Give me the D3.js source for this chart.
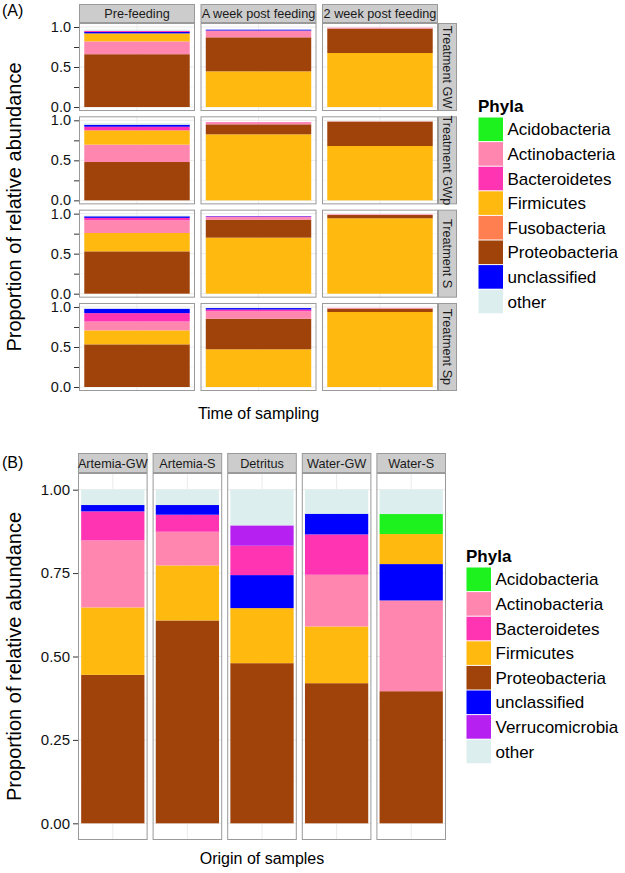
<!DOCTYPE html>
<html>
<head>
<meta charset="utf-8">
<script src="https://cdn.jsdelivr.net/npm/d3@7"></script>
<style>
  html, body { margin: 0; padding: 0; background: #fff; }
  svg { display: block; font-family: "Liberation Sans", Arial, Helvetica, sans-serif; }
</style>
</head>
<body>
<svg id="chart" width="625" height="873"></svg>
<script>
// ---------------- DATA ----------------
const phylaA = ["Acidobacteria","Actinobacteria","Bacteroidetes","Firmicutes","Fusobacteria","Proteobacteria","unclassified","other"];
const phylaB = ["Acidobacteria","Actinobacteria","Bacteroidetes","Firmicutes","Proteobacteria","unclassified","Verrucomicrobia","other"];
const phylumColors = ["#1EF21E","#FF87AF","#FF34B3","#FFB90F","#FF7F50","#A0430A","#0000FF","#B620F0","#DDEEEE"];
const phylumColorNames = ["Acidobacteria","Actinobacteria","Bacteroidetes","Firmicutes","Fusobacteria","Proteobacteria","unclassified","Verrucomicrobia","other"];

const timePoints = ["Pre-feeding","A week post feeding","2 week post feeding"];
const treatments = ["Treatment GW","Treatment GWp","Treatment S","Treatment Sp"];

// values aligned with phylaA, one array per time point
const treatmentGW  = [[0,0.160,0.012,0.100,0,0.660,0.018,0.020],
                      [0,0.085,0.000,0.446,0,0.425,0.012,0.004],
                      [0,0.012,0.000,0.675,0,0.305,0.000,0.000]];
const treatmentGWp = [[0,0.217,0.045,0.179,0,0.479,0.025,0.020],
                      [0,0.025,0.004,0.825,0,0.125,0.000,0.000],
                      [0,0.004,0.000,0.679,0,0.305,0.000,0.000]];
const treatmentS   = [[0,0.159,0.030,0.229,0,0.529,0.020,0.010],
                      [0,0.030,0.010,0.700,0,0.225,0.005,0.000],
                      [0,0.008,0.000,0.942,0,0.041,0.000,0.000]];
const treatmentSp  = [[0,0.110,0.105,0.175,0,0.533,0.054,0.005],
                      [0,0.092,0.022,0.471,0,0.383,0.018,0.000],
                      [0,0.010,0.000,0.937,0,0.042,0.000,0.000]];
const valuesA = [treatmentGW, treatmentGWp, treatmentS, treatmentSp];

const origins = ["Artemia-GW","Artemia-S","Detritus","Water-GW","Water-S"];
// values aligned with phylaB
const artemiaGW = [0,0.201,0.087,0.202,0.445,0.019,0,0.046];
const artemiaS  = [0,0.101,0.051,0.165,0.608,0.029,0,0.046];
const detritus  = [0,0,0.088,0.165,0.480,0.099,0.061,0.107];
const waterGW   = [0,0.155,0.121,0.170,0.420,0.062,0,0.072];
const waterS    = [0.060,0.272,0,0.090,0.396,0.109,0,0.073];
const valuesB = [artemiaGW, artemiaS, detritus, waterGW, waterS];

const ticksA = [0,0.25,0.5,0.75,1];
const tickLabelsA = ["0.0","","0.5","","1.0"];
const ticksB = [0,0.25,0.5,0.75,1];
const tickLabelsB = ["0.00","0.25","0.50","0.75","1.00"];

// ---------------- HELPERS ----------------
const color = d3.scaleOrdinal().domain(phylumColorNames).range(phylumColors);
const svg = d3.select("#chart");
const BORDER = "#9a9a9a", STRIP = "#cccccc", GRID = "#ebebeb", GRIDMINOR = "#f5f5f5";

function stackSegments(names, vals) {
  const items = names.map((n, i) => ({ name: n, v: vals[i] })).filter(d => d.v > 0);
  const main = items.filter(d => d.name !== "other").sort((a, b) => b.v - a.v);
  const other = items.filter(d => d.name === "other");
  const ordered = main.concat(other);
  let c = 0;
  return ordered.map(d => { const s = { name: d.name, y0: c, y1: c + d.v }; c += d.v; return s; });
}

function drawPanel(g, x0, y0, w, h, yScale, gridVals, minorVals, names, vals, label) {
  const x = d3.scaleBand().domain([label]).range([x0, x0 + w]).paddingOuter(0.05).paddingInner(0);
  g.append("rect").attr("x", x0).attr("y", y0).attr("width", w).attr("height", h).attr("fill", "#fff");
  g.selectAll(null).data(minorVals).enter().append("line")
    .attr("x1", x0).attr("x2", x0 + w).attr("y1", d => yScale(d)).attr("y2", d => yScale(d))
    .attr("stroke", GRIDMINOR).attr("stroke-width", 0.8);
  g.selectAll(null).data(gridVals).enter().append("line")
    .attr("x1", x0).attr("x2", x0 + w).attr("y1", d => yScale(d)).attr("y2", d => yScale(d))
    .attr("stroke", GRID).attr("stroke-width", 1);
  const cx = x(label) + x.bandwidth() / 2;
  g.append("line").attr("x1", cx).attr("x2", cx).attr("y1", y0).attr("y2", y0 + h)
    .attr("stroke", GRID).attr("stroke-width", 1);
  const segs = stackSegments(names, vals);
  g.selectAll(null).data(segs).enter().append("rect")
    .attr("x", x(label)).attr("width", x.bandwidth())
    .attr("y", d => yScale(d.y1)).attr("height", d => yScale(d.y0) - yScale(d.y1))
    .attr("fill", d => color(d.name));
  g.append("rect").attr("x", x0 + 0.5).attr("y", y0 + 0.5).attr("width", w - 1).attr("height", h - 1)
    .attr("fill", "none").attr("stroke", BORDER).attr("stroke-width", 1);
}

function drawYAxis(g, xPos, yScale, ticks, labels, fs) {
  const axis = d3.axisLeft(yScale).tickValues(ticks).tickSize(5).tickPadding(3)
    .tickFormat((d, i) => labels[i]);
  const a = g.append("g").attr("transform", `translate(${xPos},0)`).call(axis);
  a.select(".domain").remove();
  a.selectAll(".tick line").attr("stroke", "#333");
  a.selectAll(".tick text").attr("fill", "#111").style("font-size", fs + "px")
    .style("font-family", '"Liberation Sans", Arial, sans-serif');
}

function drawLegend(g, lx, ly, names, fs) {
  g.append("text").attr("x", lx).attr("y", ly).text("Phyla")
    .attr("font-weight", "bold").style("font-size", fs + "px").attr("fill", "#000");
  const kh = 24.6, kw = 25.5;
  const items = g.selectAll(null).data(names).enter().append("g")
    .attr("transform", (d, i) => `translate(${lx},${ly + 5 + i * kh})`);
  items.append("rect").attr("x", 0.5).attr("y", 0.5).attr("width", kw - 1).attr("height", kh - 1)
    .attr("fill", d => color(d));
  items.append("text").attr("x", kw + 4).attr("y", kh / 2 + fs * 0.36).text(d => d)
    .style("font-size", fs + "px").attr("fill", "#000");
}

// ---------------- PANEL A ----------------
const gA = svg.append("g");
const aLeft = 79, aRight = 438, aTop = 23, aBottom = 391, aGapX = 5.5, aGapY = 5.3;
const aW = (aRight - aLeft - 2 * aGapX) / 3;
const aH = (aBottom - aTop - 3 * aGapY) / 4;

timePoints.forEach((t, c) => {
  const x0 = aLeft + c * (aW + aGapX);
  gA.append("rect").attr("x", x0 + 0.5).attr("y", 4.5).attr("width", aW - 1).attr("height", aTop - 5)
    .attr("fill", STRIP).attr("stroke", BORDER).attr("stroke-width", 1);
  gA.append("text").attr("x", x0 + aW / 2).attr("y", 18).attr("text-anchor", "middle")
    .style("font-size", "12.7px").attr("fill", "#1a1a1a").text(t);
});

treatments.forEach((tr, r) => {
  const y0 = aTop + r * (aH + aGapY);
  const yScale = d3.scaleLinear().domain([-0.05, 1.05]).range([y0 + aH, y0]);
  timePoints.forEach((t, c) => {
    const x0 = aLeft + c * (aW + aGapX);
    drawPanel(gA, x0, y0, aW, aH, yScale, [0, 0.5, 1], [0.25, 0.75], phylaA, valuesA[r][c], t);
  });
  drawYAxis(gA, aLeft, yScale, ticksA, tickLabelsA, 14.5);
  gA.append("rect").attr("x", aRight + 0.5).attr("y", y0 + 0.5).attr("width", 18).attr("height", aH - 1)
    .attr("fill", STRIP).attr("stroke", BORDER).attr("stroke-width", 1);
  gA.append("text").attr("transform", `translate(${aRight + 5},${y0 + aH / 2}) rotate(90)`)
    .attr("text-anchor", "middle").style("font-size", "12.7px").attr("fill", "#1a1a1a").text(tr);
});

gA.append("text").attr("x", 2).attr("y", 16).text("(A)").style("font-size", "16px").attr("fill", "#000");
gA.append("text").attr("transform", `translate(21,${(aTop + aBottom) / 2}) rotate(-90)`)
  .attr("text-anchor", "middle").style("font-size", "20px").attr("fill", "#000")
  .text("Proportion of relative abundance");
gA.append("text").attr("x", (aLeft + aRight) / 2).attr("y", 419).attr("text-anchor", "middle")
  .style("font-size", "16px").attr("fill", "#000").text("Time of sampling");
drawLegend(gA, 478, 112, phylaA, 17);

// ---------------- PANEL B ----------------
const gB = svg.append("g");
const bLeft = 78, bRight = 446, bTop = 473, bBottom = 840, bGapX = 5;
const bW = (bRight - bLeft - 4 * bGapX) / 5;
const yB = d3.scaleLinear().domain([-0.05, 1.05]).range([bBottom, bTop]);

origins.forEach((o, c) => {
  const x0 = bLeft + c * (bW + bGapX);
  gB.append("rect").attr("x", x0 + 0.5).attr("y", 453.5).attr("width", bW - 1).attr("height", bTop - 454)
    .attr("fill", STRIP).attr("stroke", BORDER).attr("stroke-width", 1);
  gB.append("text").attr("x", x0 + bW / 2).attr("y", 468).attr("text-anchor", "middle")
    .style("font-size", "12.7px").attr("fill", "#1a1a1a").text(o);
  drawPanel(gB, x0, bTop, bW, bBottom - bTop, yB, [0, 0.25, 0.5, 0.75, 1], [0.125, 0.375, 0.625, 0.875], phylaB, valuesB[c], o);
});
drawYAxis(gB, bLeft, yB, ticksB, tickLabelsB, 15);

gB.append("text").attr("x", 2).attr("y", 468).text("(B)").style("font-size", "16px").attr("fill", "#000");
gB.append("text").attr("transform", `translate(21,${(bTop + bBottom) / 2}) rotate(-90)`)
  .attr("text-anchor", "middle").style("font-size", "20px").attr("fill", "#000")
  .text("Proportion of relative abundance");
gB.append("text").attr("x", (bLeft + bRight) / 2).attr("y", 864).attr("text-anchor", "middle")
  .style("font-size", "16px").attr("fill", "#000").text("Origin of samples");
drawLegend(gB, 466, 562, phylaB, 17);
</script>
</body>
</html>
